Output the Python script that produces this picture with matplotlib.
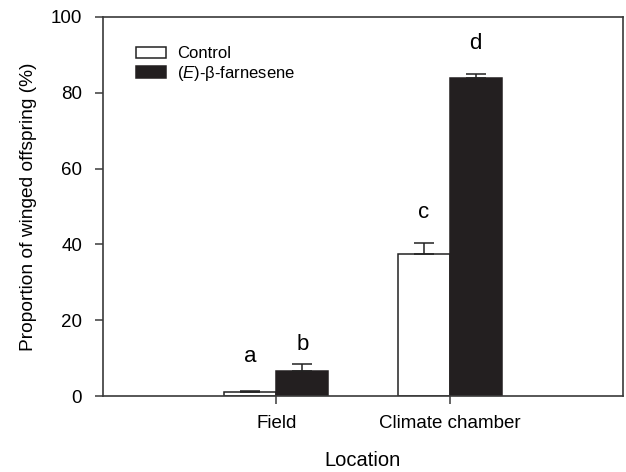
import matplotlib
matplotlib.use('Agg')
import matplotlib.pyplot as plt
import numpy as np

plt.rcParams['font.family'] = ['Liberation Sans', 'DejaVu Sans']
plt.rcParams['mathtext.fontset'] = 'custom'
plt.rcParams['mathtext.it'] = 'Liberation Sans:italic'
plt.rcParams['mathtext.rm'] = 'Liberation Sans'

locations = ['Field', 'Climate chamber']
control = [1.0, 37.5]
control_err = [0.2, 2.9]
farnesene = [6.6, 83.9]
farnesene_err = [1.8, 1.1]
letters_ctrl = ['a', 'c']
letters_farn = ['b', 'd']
letter_y_ctrl = [10.3, 48.3]
letter_y_farn = [13.5, 93.1]

fig = plt.figure(figsize=(6.26, 4.72), dpi=100)
ax = fig.add_axes([0.1645, 0.161, 0.8305, 0.803])

x = np.arange(len(locations))
w = 0.3
spine_c = '#3a3a3a'
ax.bar(x - w / 2, control, w, color='white', edgecolor='#222222', linewidth=1.1, label='Control', zorder=2)
ax.bar(x + w / 2, farnesene, w, color='#231f20', edgecolor='#231f20', linewidth=1.1,
       label='($\\mathit{E}$)-β-farnesene', zorder=2)
# one-sided error bars (upper only)
ax.errorbar(x - w / 2, control, yerr=[np.zeros(2), control_err], fmt='none', ecolor='#222222',
            elinewidth=1.1, capsize=7, capthick=1.1, zorder=3)
ax.errorbar(x + w / 2, farnesene, yerr=[np.zeros(2), farnesene_err], fmt='none', ecolor='#222222',
            elinewidth=1.1, capsize=7, capthick=1.1, zorder=3)

for i in range(len(locations)):
    ax.text(x[i] - w / 2, letter_y_ctrl[i], letters_ctrl[i], ha='center', va='center', fontsize=16)
    ax.text(x[i] + w / 2, letter_y_farn[i], letters_farn[i], ha='center', va='center', fontsize=16)

ax.set_xlim(-1, 2)
ax.set_ylim(0, 100)
ax.set_yticks([0, 20, 40, 60, 80, 100])
ax.set_xticks(x)
ax.set_xticklabels(locations, fontsize=13.5)
ax.tick_params(axis='y', labelsize=13.5, length=6, width=1.1, color=spine_c, direction='out', pad=9)
ax.tick_params(axis='x', length=6, width=1.1, color=spine_c, direction='out', pad=8)
for s in ax.spines.values():
    s.set_color(spine_c)
    s.set_linewidth(1.2)

ax.set_ylabel('Proportion of winged offspring (%)', fontsize=13.8, labelpad=10)
ax.set_xlabel('Location', fontsize=14.5, labelpad=13)

ax.legend(loc='upper left', bbox_to_anchor=(0.05, 0.94), frameon=False, fontsize=12,
          handlelength=1.8, handleheight=0.7, handletextpad=0.7, labelspacing=0.15,
          borderaxespad=0)

plt.savefig('out.png', dpi=100)
